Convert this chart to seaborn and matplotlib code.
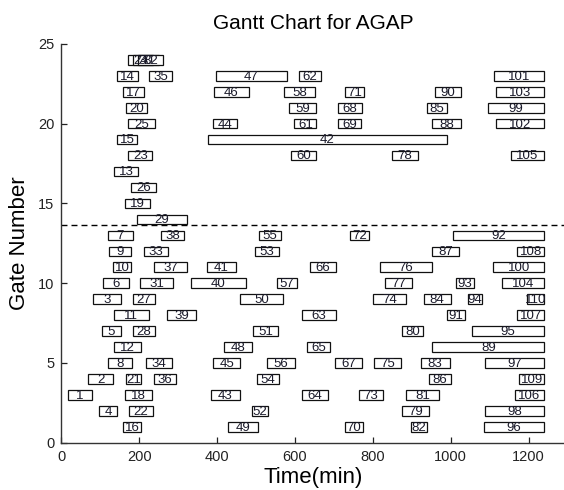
import matplotlib
matplotlib.use("Agg")
import matplotlib.pyplot as plt
import seaborn as sns
import numpy as np
import pandas as pd

# ---- data: one entry per flight (label), gate row, start and end time (min)
rows_1 = [1, 1, 1, 1, 1]
labels_1 = [16, 49, 70, 82, 96]
starts_1 = [158, 429, 728, 897, 1085]
ends_1 = [205, 504, 775, 940, 1240]

rows_2 = [2, 2, 2, 2, 2]
labels_2 = [4, 22, 52, 79, 98]
starts_2 = [98, 173, 489, 876, 1089]
ends_2 = [143, 235, 531, 945, 1240]

rows_3 = [3, 3, 3, 3, 3, 3, 3]
labels_3 = [1, 18, 43, 64, 73, 81, 106]
starts_3 = [16, 164, 384, 617, 765, 884, 1164]
ends_3 = [78, 234, 459, 685, 826, 970, 1240]

rows_4 = [4, 4, 4, 4, 4, 4]
labels_4 = [2, 21, 36, 54, 86, 109]
starts_4 = [68, 166, 239, 503, 945, 1176]
ends_4 = [134, 204, 294, 559, 1000, 1240]

rows_5 = [5, 5, 5, 5, 5, 5, 5, 5]
labels_5 = [8, 34, 45, 56, 67, 75, 83, 97]
starts_5 = [119, 218, 389, 527, 703, 803, 923, 1089]
ends_5 = [182, 284, 460, 601, 771, 871, 997, 1240]

rows_6 = [6, 6, 6, 6]
labels_6 = [12, 48, 65, 89]
starts_6 = [136, 418, 632, 953]
ends_6 = [204, 489, 690, 1240]

rows_7 = [7, 7, 7, 7, 7]
labels_7 = [5, 28, 51, 80, 95]
starts_7 = [104, 183, 493, 876, 1055]
ends_7 = [153, 240, 556, 929, 1240]

rows_8 = [8, 8, 8, 8, 8]
labels_8 = [11, 39, 63, 91, 107]
starts_8 = [136, 271, 617, 990, 1170]
ends_8 = [224, 346, 705, 1037, 1240]

rows_9 = [9, 9, 9, 9, 9, 9, 9]
labels_9 = [3, 27, 50, 74, 84, 94, 110]
starts_9 = [82, 183, 458, 800, 930, 1043, 1195]
ends_9 = [152, 240, 570, 885, 1000, 1080, 1240]

rows_10 = [10, 10, 10, 10, 10, 10, 10]
labels_10 = [6, 31, 40, 57, 77, 93, 104]
starts_10 = [107, 203, 332, 554, 831, 1013, 1131]
ends_10 = [174, 288, 473, 604, 900, 1060, 1240]

rows_11 = [11, 11, 11, 11, 11, 11]
labels_11 = [10, 37, 41, 66, 76, 100]
starts_11 = [134, 239, 374, 638, 818, 1109]
ends_11 = [180, 323, 449, 705, 951, 1240]

rows_12 = [12, 12, 12, 12, 12]
labels_12 = [9, 33, 53, 87, 108]
starts_12 = [122, 212, 497, 953, 1170]
ends_12 = [180, 274, 558, 1020, 1240]

rows_13 = [13, 13, 13, 13, 13]
labels_13 = [7, 38, 55, 72, 92]
starts_13 = [119, 257, 508, 740, 1005]
ends_13 = [183, 315, 565, 790, 1240]

rows_14_17 = [14, 15, 16, 17]
labels_14_17 = [29, 19, 26, 13]
starts_14_17 = [194, 164, 178, 136]
ends_14_17 = [323, 228, 243, 198]

rows_18 = [18, 18, 18, 18]
labels_18 = [23, 60, 78, 105]
starts_18 = [172, 591, 848, 1154]
ends_18 = [234, 653, 915, 1240]

rows_19 = [19, 19]
labels_19 = [15, 42]
starts_19 = [142, 377]
ends_19 = [195, 990]

rows_20 = [20, 20, 20, 20, 20, 20]
labels_20 = [25, 44, 61, 69, 88, 102]
starts_20 = [172, 389, 598, 710, 953, 1115]
ends_20 = [240, 452, 655, 769, 1026, 1240]

rows_21 = [21, 21, 21, 21, 21]
labels_21 = [20, 59, 68, 85, 99]
starts_21 = [167, 585, 710, 938, 1095]
ends_21 = [219, 653, 773, 990, 1240]

rows_22 = [22, 22, 22, 22, 22, 22]
labels_22 = [17, 46, 58, 71, 90, 103]
starts_22 = [158, 392, 571, 729, 959, 1115]
ends_22 = [213, 481, 651, 777, 1026, 1240]

rows_23 = [23, 23, 23, 23, 23]
labels_23 = [14, 35, 47, 62, 101]
starts_23 = [142, 226, 397, 610, 1110]
ends_23 = [196, 284, 579, 667, 1240]

rows_24 = [24, 24, 24]
labels_24 = [24, 30, 32]
starts_24 = [172, 185, 196]
ends_24 = [235, 250, 262]

separator_gate = 13.65
x_ticks = [0, 200, 400, 600, 800, 1000, 1200]
y_ticks = [0, 5, 10, 15, 20, 25]

all_rows = (rows_1 + rows_2 + rows_3 + rows_4 + rows_5 + rows_6 + rows_7 + rows_8 +
            rows_9 + rows_10 + rows_11 + rows_12 + rows_13 + rows_14_17 + rows_18 +
            rows_19 + rows_20 + rows_21 + rows_22 + rows_23 + rows_24)
all_labels = (labels_1 + labels_2 + labels_3 + labels_4 + labels_5 + labels_6 + labels_7 +
              labels_8 + labels_9 + labels_10 + labels_11 + labels_12 + labels_13 +
              labels_14_17 + labels_18 + labels_19 + labels_20 + labels_21 + labels_22 +
              labels_23 + labels_24)
all_starts = (starts_1 + starts_2 + starts_3 + starts_4 + starts_5 + starts_6 + starts_7 +
              starts_8 + starts_9 + starts_10 + starts_11 + starts_12 + starts_13 +
              starts_14_17 + starts_18 + starts_19 + starts_20 + starts_21 + starts_22 +
              starts_23 + starts_24)
all_ends = (ends_1 + ends_2 + ends_3 + ends_4 + ends_5 + ends_6 + ends_7 + ends_8 + ends_9 +
            ends_10 + ends_11 + ends_12 + ends_13 + ends_14_17 + ends_18 + ends_19 +
            ends_20 + ends_21 + ends_22 + ends_23 + ends_24)

df = pd.DataFrame({"gate": all_rows, "flight": all_labels,
                   "start": all_starts, "end": all_ends})
df["dur"] = df["end"] - df["start"]

sns.set_theme(style="white")
plt.rcParams["font.family"] = ["Liberation Sans", "DejaVu Sans"]

fig = plt.figure(figsize=(5.64, 4.90), dpi=100)
ax = fig.add_axes([0.1087, 0.0965, 0.8943, 0.8138])

ax.barh(df["gate"], df["dur"], left=df["start"], height=0.6,
        color="white", edgecolor="#111111", linewidth=0.9, zorder=2)
for _, r in df.iterrows():
    ax.text((r["start"] + r["end"]) / 2, r["gate"] - 0.05, str(r["flight"]),
            ha="center", va="center", fontsize=9.5, color="#1a1a2a", zorder=3)

ax.axhline(separator_gate, color="black", linewidth=1.0, dashes=(4.3, 2.9), zorder=1)

ax.set_xlim(0, 1295)
ax.set_ylim(0, 25)
ax.set_xticks(x_ticks)
ax.set_yticks(y_ticks)
ax.tick_params(direction="in", length=4, width=0.9, labelsize=10.5,
               colors="#222222", pad=5, left=True, bottom=True)
for s in ["top", "right"]:
    ax.spines[s].set_visible(False)
for s in ["left", "bottom"]:
    ax.spines[s].set_color("#333333")
    ax.spines[s].set_linewidth(1.0)

ax.set_title("Gantt Chart for AGAP", fontsize=15, pad=11, color="black")
ax.set_xlabel("Time(min)", fontsize=16, labelpad=2.5, color="black")
ax.set_ylabel("Gate Number", fontsize=16, labelpad=6, color="black")

fig.savefig("out.png", dpi=100)
